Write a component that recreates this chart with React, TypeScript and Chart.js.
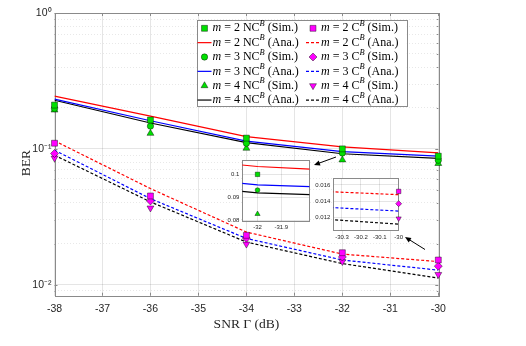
import React, { useEffect, useRef } from 'react';
import { Chart, registerables } from 'chart.js';
import { drawPoint } from 'chart.js/helpers';

Chart.register(...registerables);

// ---------------- data ----------------
const snr = [-38, -36, -34, -32, -30];

const ncSimM2 = [0.21, 0.163, 0.12, 0.1, 0.0884];
const ncAnaM2 = [0.2445, 0.174, 0.123, 0.1034, 0.0934];
const ncSimM3 = [0.198, 0.147, 0.11, 0.0932, 0.0825];
const ncAnaM3 = [0.232, 0.161, 0.114, 0.0955, 0.0885];
const ncSimM4 = [0.193, 0.13, 0.101, 0.0829, 0.078];
const ncAnaM4 = [0.228, 0.155, 0.111, 0.092, 0.085];

const cSimM2 = [0.11, 0.045, 0.0231, 0.0172, 0.0152];
const cAnaM2 = [0.1146, 0.051, 0.0244, 0.0168, 0.0148];
const cSimM3 = [0.0924, 0.0413, 0.022, 0.016, 0.0137];
const cAnaM3 = [0.0978, 0.043, 0.0219, 0.0152, 0.0128];
const cSimM4 = [0.0855, 0.0367, 0.0199, 0.0148, 0.0119];
const cAnaM4 = [0.0898, 0.0407, 0.0206, 0.0143, 0.0112];

const xTicks = [-38, -37, -36, -35, -34, -33, -32, -31, -30];
const yMajorTicks = [0.01, 0.1, 1];
const yMajorLabels = ['10\u207B\u00B2', '10\u207B\u00B9', '10\u2070'];
const yMinorMultipliers = [2, 3, 4, 5, 6, 7, 8, 9];
const yMinorDecades = [0.001, 0.01, 0.1];

const inset1XTicks = [-32, -31.9];
const inset1YTicks = [0.08, 0.09, 0.1];
const inset2XTicks = [-30.3, -30.2, -30.1, -30];
const inset2YTicks = [0.012, 0.014, 0.016];

// ---------------- styles ----------------
const W = 526;
const H = 346;
const GREEN = '#00e000';
const MAGENTA = '#ff00ff';
const EDGE = 'rgba(0,0,0,0.7)';
const AXIS = '#8a8a8a';
const TEXT = '#262626';
const SANS = '"Liberation Sans", Arial, sans-serif';
const SERIF = '"Liberation Serif", "Times New Roman", serif';

type Def = {
  values: number[];
  color: string;
  sim: boolean;
  style?: string;
  rot?: number;
  radius?: number;
  dash?: number[];
  m: number;
  scheme: string;
};

const defs: Def[] = [
  { values: ncSimM2, color: GREEN, sim: true, style: 'rect', radius: 4.2, m: 2, scheme: 'NC' },
  { values: ncAnaM2, color: '#ff0000', sim: false, dash: [], m: 2, scheme: 'NC' },
  { values: ncSimM3, color: GREEN, sim: true, style: 'circle', radius: 3.2, m: 3, scheme: 'NC' },
  { values: ncAnaM3, color: '#0000ff', sim: false, dash: [], m: 3, scheme: 'NC' },
  { values: ncSimM4, color: GREEN, sim: true, style: 'triangle', radius: 4, m: 4, scheme: 'NC' },
  { values: ncAnaM4, color: '#000000', sim: false, dash: [], m: 4, scheme: 'NC' },
  { values: cSimM2, color: MAGENTA, sim: true, style: 'rect', radius: 4.2, m: 2, scheme: 'C' },
  { values: cAnaM2, color: '#ff0000', sim: false, dash: [3, 2], m: 2, scheme: 'C' },
  { values: cSimM3, color: MAGENTA, sim: true, style: 'rectRot', radius: 4, m: 3, scheme: 'C' },
  { values: cAnaM3, color: '#0000ff', sim: false, dash: [3, 2], m: 3, scheme: 'C' },
  { values: cSimM4, color: MAGENTA, sim: true, style: 'triangle', rot: 180, radius: 4, m: 4, scheme: 'C' },
  { values: cAnaM4, color: '#000000', sim: false, dash: [3, 2], m: 4, scheme: 'C' },
];

function makeDatasets(xmin: number, xmax: number, scale: number) {
  return defs.map((d) => {
    const pts = snr.map((x, i) => ({ x, y: d.values[i] }));
    if (d.sim) {
      return {
        data: pts.filter((p) => p.x >= xmin - 1e-9 && p.x <= xmax + 1e-9),
        showLine: false,
        pointStyle: d.style,
        pointRotation: d.rot || 0,
        pointRadius: (d.radius || 4) * scale,
        pointBackgroundColor: d.color,
        pointBorderColor: EDGE,
        pointBorderWidth: 0.6,
        clip: false as any,
        order: 0,
      };
    }
    return {
      data: pts,
      borderColor: d.color,
      borderWidth: 1.2,
      borderDash: d.dash,
      pointRadius: 0,
      fill: false,
      tension: 0,
      order: 1,
    };
  });
}

function drawRich(ctx: CanvasRenderingContext2D, x: number, y: number, size: number, parts: { t: string; it?: boolean; sup?: boolean }[]) {
  let cx = x;
  ctx.textBaseline = 'middle';
  ctx.textAlign = 'left';
  for (const p of parts) {
    const s = p.sup ? size * 0.7 : size;
    ctx.font = `${p.it ? 'italic ' : ''}${s}px ${SERIF}`;
    ctx.fillText(p.t, cx, p.sup ? y - size * 0.38 : y);
    cx += ctx.measureText(p.t).width;
  }
  return cx - x;
}

function drawArrow(ctx: CanvasRenderingContext2D, x1: number, y1: number, x2: number, y2: number) {
  const ang = Math.atan2(y2 - y1, x2 - x1);
  const hl = 6;
  const hw = 2.6;
  ctx.save();
  ctx.strokeStyle = '#000';
  ctx.fillStyle = '#000';
  ctx.lineWidth = 1;
  ctx.setLineDash([]);
  ctx.beginPath();
  ctx.moveTo(x1, y1);
  ctx.lineTo(x2 - Math.cos(ang) * hl * 0.8, y2 - Math.sin(ang) * hl * 0.8);
  ctx.stroke();
  ctx.beginPath();
  ctx.moveTo(x2, y2);
  ctx.lineTo(x2 - Math.cos(ang) * hl - Math.sin(ang) * hw, y2 - Math.sin(ang) * hl + Math.cos(ang) * hw);
  ctx.lineTo(x2 - Math.cos(ang) * hl + Math.sin(ang) * hw, y2 - Math.sin(ang) * hl - Math.cos(ang) * hw);
  ctx.closePath();
  ctx.fill();
  ctx.restore();
}

// Layout constants for annotations
const LEGEND = { left: 196.7, top: 20, right: 406.7, bottom: 106, row0: 28.3, rowStep: 14.35, col1Line: [197.5, 211.5], col1Text: 212.5, col2Line: [306, 320], col2Text: 321 };
const ARROWS = [
  [336, 157, 314, 165],
  [425, 249.5, 405, 237],
];

const framePlugin = {
  id: 'frame',
  beforeDatasetsDraw(chart: any) {
    const { ctx, chartArea: a, scales } = chart;
    ctx.save();
    ctx.strokeStyle = AXIS;
    ctx.lineWidth = 1;
    ctx.setLineDash([]);
    ctx.strokeRect(Math.round(a.left) + 0.5, Math.round(a.top) + 0.5, Math.round(a.right - a.left), Math.round(a.bottom - a.top));
    ctx.beginPath();
    for (const t of scales.x.ticks) {
      const px = Math.round(scales.x.getPixelForValue(t.value)) + 0.5;
      ctx.moveTo(px, a.bottom);
      ctx.lineTo(px, a.bottom - 3);
      ctx.moveTo(px, a.top);
      ctx.lineTo(px, a.top + 3);
    }
    for (const t of scales.y.ticks) {
      const py = Math.round(scales.y.getPixelForValue(t.value)) + 0.5;
      const len = yMajorTicks.includes(t.value) ? 3 : 1.5;
      ctx.moveTo(a.left, py);
      ctx.lineTo(a.left + len, py);
      ctx.moveTo(a.right, py);
      ctx.lineTo(a.right - len, py);
    }
    ctx.stroke();
    ctx.restore();
  },
  afterDraw(chart: any) {
    const { ctx, chartArea: a } = chart;
    ctx.save();
    ctx.fillStyle = TEXT;
    ctx.font = `13.5px ${SERIF}`;
    ctx.textAlign = 'center';
    ctx.textBaseline = 'middle';
    ctx.fillText('SNR \u0393 (dB)', (a.left + a.right) / 2, 324);
    ctx.save();
    ctx.translate(26, 163);
    ctx.rotate(-Math.PI / 2);
    ctx.fillText('BER', 0, 0);
    ctx.restore();

    for (const [x1, y1, x2, y2] of ARROWS) drawArrow(ctx, x1, y1, x2, y2);

    const L = LEGEND;
    ctx.fillStyle = '#ffffff';
    ctx.fillRect(L.left, L.top, L.right - L.left, L.bottom - L.top);
    ctx.strokeStyle = AXIS;
    ctx.lineWidth = 1;
    ctx.strokeRect(Math.round(L.left) + 0.5, Math.round(L.top) + 0.5, Math.round(L.right - L.left), Math.round(L.bottom - L.top));
    defs.forEach((d, i) => {
      const col = i < 6 ? 0 : 1;
      const row = i % 6;
      const y = L.row0 + row * L.rowStep;
      const line = col === 0 ? L.col1Line : L.col2Line;
      const tx = col === 0 ? L.col1Text : L.col2Text;
      const mx = (line[0] + line[1]) / 2;
      if (d.sim) {
        ctx.fillStyle = d.color;
        ctx.strokeStyle = EDGE;
        ctx.lineWidth = 0.6;
        ctx.setLineDash([]);
        drawPoint(ctx, { pointStyle: d.style as any, rotation: d.rot || 0, radius: d.radius || 4, borderWidth: 0.6 } as any, mx, y);
      } else {
        ctx.strokeStyle = d.color;
        ctx.lineWidth = 1.2;
        ctx.setLineDash(d.dash || []);
        ctx.beginPath();
        ctx.moveTo(line[0], y);
        ctx.lineTo(line[1], y);
        ctx.stroke();
        ctx.setLineDash([]);
      }
      ctx.fillStyle = '#000';
      drawRich(ctx, tx, y, 12, [
        { t: 'm', it: true },
        { t: ` = ${d.m} ${d.scheme}` },
        { t: 'B', sup: true, it: true },
        { t: ` (${d.sim ? 'Sim.' : 'Ana.'})` },
      ]);
    });
    ctx.restore();
  },
};

const insetPlugin = {
  id: 'insetFrame',
  beforeDraw(chart: any) {
    const { ctx, chartArea: a } = chart;
    ctx.save();
    ctx.fillStyle = '#ffffff';
    ctx.fillRect(a.left, a.top, a.right - a.left, a.bottom - a.top);
    ctx.restore();
  },
  beforeDatasetsDraw(chart: any) {
    const { ctx, chartArea: a } = chart;
    ctx.save();
    ctx.strokeStyle = AXIS;
    ctx.lineWidth = 1;
    ctx.strokeRect(Math.round(a.left) + 0.5, Math.round(a.top) + 0.5, Math.round(a.right - a.left), Math.round(a.bottom - a.top));
    ctx.restore();
  },
};

function yMainTicks() {
  const minor: number[] = [];
  for (const d of yMinorDecades) for (const m of yMinorMultipliers) minor.push(d * m);
  return { minor, all: [...yMajorTicks, ...minor] };
}

function makeInset(
  canvas: HTMLCanvasElement,
  xr: [number, number],
  yr: [number, number],
  xt: number[],
  yt: number[],
  yAxisW: number,
  xAxisH: number,
  padTop: number,
  padRight: number,
  yFmt: (v: number) => string,
  xFmt: (v: number) => string,
) {
  return new Chart(canvas, {
    type: 'line',
    data: { datasets: makeDatasets(xr[0], xr[1], 0.75) as any },
    options: {
      animation: false,
      responsive: false,
      devicePixelRatio: 1,
      layout: { padding: { left: 0, top: padTop, right: padRight, bottom: 0 } },
      plugins: { legend: { display: false }, tooltip: { enabled: false } },
      events: [],
      scales: {
        x: {
          type: 'linear',
          min: xr[0],
          max: xr[1],
          afterBuildTicks: (s: any) => {
            s.ticks = xt.map((v) => ({ value: v }));
          },
          afterFit: (s: any) => {
            s.height = xAxisH;
          },
          grid: { color: 'rgba(0,0,0,0.1)', drawTicks: false },
          border: { display: false },
          ticks: { padding: 3, autoSkip: false, maxRotation: 0, color: TEXT, font: { family: SANS, size: 6 }, callback: (v: any) => xFmt(Number(v)) },
        },
        y: {
          type: 'linear',
          min: yr[0],
          max: yr[1],
          afterBuildTicks: (s: any) => {
            s.ticks = yt.map((v) => ({ value: v }));
          },
          afterFit: (s: any) => {
            s.width = yAxisW;
          },
          grid: { color: 'rgba(0,0,0,0.1)', drawTicks: false },
          border: { display: false },
          ticks: { padding: 3, autoSkip: false, color: TEXT, font: { family: SANS, size: 6 }, callback: (v: any) => yFmt(Number(v)) },
        },
      },
    } as any,
    plugins: [insetPlugin],
  });
}

export default function App() {
  const mainRef = useRef<HTMLCanvasElement>(null);
  const in1Ref = useRef<HTMLCanvasElement>(null);
  const in2Ref = useRef<HTMLCanvasElement>(null);

  useEffect(() => {
    const yt = yMainTicks();
    const main = new Chart(mainRef.current!, {
      type: 'line',
      data: { datasets: makeDatasets(-38, -30, 1) as any },
      options: {
        animation: false,
        responsive: false,
        devicePixelRatio: 1,
        events: [],
        layout: { padding: { left: 0, top: 13, right: 87.7, bottom: 0 } },
        plugins: { legend: { display: false }, tooltip: { enabled: false } },
        scales: {
          x: {
            type: 'linear',
            min: -38,
            max: -30,
            afterBuildTicks: (s: any) => {
              s.ticks = xTicks.map((v) => ({ value: v }));
            },
            afterFit: (s: any) => {
              s.height = 50.3;
            },
            grid: { color: 'rgba(0,0,0,0.1)', drawTicks: false },
            border: { display: false },
            ticks: { padding: 7, autoSkip: false, maxRotation: 0, color: TEXT, font: { family: SANS, size: 10.5 }, callback: (v: any) => String(v) },
          },
          y: {
            type: 'logarithmic',
            min: 0.0083,
            max: 1,
            afterBuildTicks: (s: any) => {
              s.ticks = yt.all.filter((v) => v >= 0.0083 && v <= 1).map((v) => ({ value: v, major: yMajorTicks.includes(v) }));
            },
            afterFit: (s: any) => {
              s.width = 54.5;
            },
            grid: {
              drawTicks: false,
              color: (c: any) => (yMajorTicks.includes(c.tick?.value) ? 'rgba(0,0,0,0.1)' : 'rgba(0,0,0,0.09)'),
              borderDash: (c: any) => (yMajorTicks.includes(c.tick?.value) ? [] : [1, 2]),
            },
            border: { display: false, dash: (c: any) => (yMajorTicks.includes(c.tick?.value) ? [] : [1, 2]) },
            ticks: {
              padding: 3,
              autoSkip: false,
              color: TEXT,
              font: { family: SANS, size: 10.5 },
              callback: (v: any) => {
                const idx = yMajorTicks.indexOf(Number(v));
                return idx >= 0 ? yMajorLabels[idx] : '';
              },
            },
          },
        },
      } as any,
      plugins: [framePlugin],
    });

    const in1 = makeInset(
      in1Ref.current!,
      [-32.064, -31.782],
      [0.08, 0.1062],
      inset1XTicks,
      inset1YTicks,
      32.3,
      15.3,
      8,
      4,
      (v) => String(Number(v.toFixed(3))),
      (v) => String(Number(v.toFixed(1))),
    );
    const in2 = makeInset(
      in2Ref.current!,
      [-30.346, -30],
      [0.0104, 0.0168],
      inset2XTicks,
      inset2YTicks,
      33.3,
      15.3,
      8.3,
      5,
      (v) => v.toFixed(3),
      (v) => String(Number(v.toFixed(1))),
    );

    return () => {
      main.destroy();
      in1.destroy();
      in2.destroy();
    };
  }, []);

  return (
    <div style={{ position: 'absolute', left: 0, top: 0, width: W, height: H, background: '#fff' }}>
      <canvas ref={mainRef} width={W} height={H} style={{ position: 'absolute', left: 0, top: 0, width: W, height: H }} />
      <canvas ref={in1Ref} width={104} height={84} style={{ position: 'absolute', left: 210, top: 152, width: 104, height: 84 }} />
      <canvas ref={in2Ref} width={106} height={76} style={{ position: 'absolute', left: 300, top: 170, width: 106, height: 76 }} />
    </div>
  );
}
